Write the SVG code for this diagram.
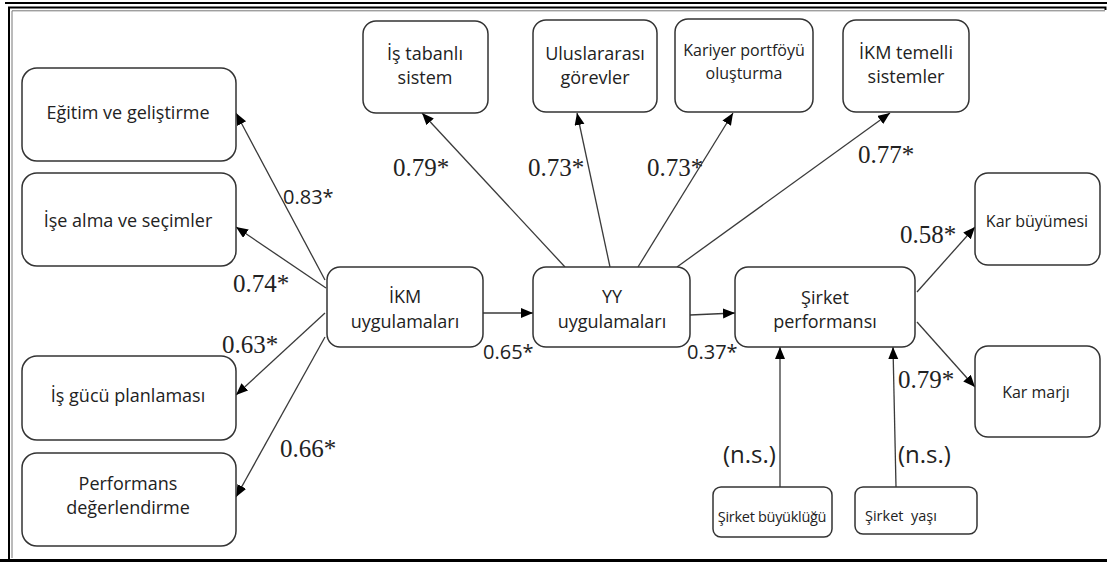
<svg xmlns="http://www.w3.org/2000/svg" width="1107" height="562" viewBox="0 0 1107 562">
<defs>
<marker id="ah" markerUnits="userSpaceOnUse" markerWidth="14" markerHeight="12" refX="12" refY="5" orient="auto">
<path d="M0,0 L12,5 L0,10 z" fill="#000"/>
</marker>
<style>
.box{fill:#fff;stroke:#333;stroke-width:1.5}
.t{font-family:"Open Sans","Liberation Sans",sans-serif;font-size:18px;fill:#222;text-anchor:middle}
.ts{font-family:"Open Sans","Liberation Sans",sans-serif;font-size:16px;fill:#222;text-anchor:middle}
.c{stroke:#3a3a3a;stroke-width:1.3;fill:none;marker-end:url(#ah)}
.ls{font-family:"Open Sans","Liberation Sans",sans-serif;font-size:20px;fill:#222}
.lr{font-family:"Liberation Serif","DejaVu Serif",serif;font-size:25px;fill:#222}
.ns{font-family:"Open Sans","Liberation Sans",sans-serif;font-size:24px;fill:#222}
</style>
</defs>
<rect width="1107" height="562" fill="#fff"/>
<g id="frame" fill="none">
<line x1="5" y1="3" x2="1107" y2="3" stroke="#000" stroke-width="2"/>
<path d="M9,559 V7.5 H1105.5 V10" stroke="#000" stroke-width="2"/>
<path d="M12,558 V10.8 H1105" stroke="#777" stroke-width="1"/>
<line x1="0" y1="560.5" x2="1107" y2="560.5" stroke="#000" stroke-width="3"/>
</g>
<g id="connectors">
<line class="c" x1="325" y1="280" x2="236" y2="113"/>
<line class="c" x1="326" y1="288" x2="236" y2="227"/>
<line class="c" x1="325" y1="313" x2="236" y2="395"/>
<line class="c" x1="325" y1="337" x2="236" y2="497"/>
<line class="c" x1="483" y1="313" x2="533" y2="313"/>
<line class="c" x1="690" y1="315" x2="735" y2="313"/>
<line class="c" x1="565" y1="267" x2="422" y2="113"/>
<line class="c" x1="610" y1="267" x2="577" y2="113"/>
<line class="c" x1="638" y1="267" x2="733" y2="113"/>
<line class="c" x1="677" y1="267" x2="890" y2="113"/>
<line class="c" x1="917" y1="292" x2="975" y2="227"/>
<line class="c" x1="917" y1="322" x2="975" y2="387"/>
<line class="c" x1="780" y1="487" x2="780" y2="347"/>
<line class="c" x1="896" y1="487" x2="893" y2="347"/>
</g>
<g id="labels">
<text class="ls" x="283" y="204">0.83*</text>
<text class="lr" x="233" y="292">0.74*</text>
<text class="lr" x="222" y="353">0.63*</text>
<text class="lr" x="280" y="457">0.66*</text>
<text class="ls" x="483" y="359">0.65*</text>
<text class="ls" x="687" y="359">0.37*</text>
<text class="lr" x="393" y="176">0.79*</text>
<text class="lr" x="528" y="176">0.73*</text>
<text class="lr" x="647" y="176">0.73*</text>
<text class="lr" x="858" y="163">0.77*</text>
<text class="lr" x="900" y="243">0.58*</text>
<text class="lr" x="898" y="388">0.79*</text>
<text class="ns" x="723" y="463">(n.s.)</text>
<text class="ns" x="898" y="463">(n.s.)</text>
</g>
<g id="n-egitim"><rect class="box" x="22" y="68" width="214" height="93" rx="15"/><text class="t" x="128" y="119">Eğitim ve geliştirme</text></g>
<g id="n-ise"><rect class="box" x="22" y="173" width="214" height="93" rx="15"/><text class="t" x="128" y="227">İşe alma ve seçimler</text></g>
<g id="n-isgucu"><rect class="box" x="22" y="356" width="214" height="84" rx="15"/><text class="t" x="128" y="402">İş gücü planlaması</text></g>
<g id="n-perf"><rect class="box" x="22" y="453" width="214" height="93" rx="15"/><text class="t" x="128" y="490">Performans</text><text class="t" x="128" y="514">değerlendirme</text></g>
<g id="n-ikm"><rect class="box" x="327" y="267" width="156" height="80" rx="13"/><text class="t" x="405" y="303">İKM</text><text class="t" x="405" y="328">uygulamaları</text></g>
<g id="n-yy"><rect class="box" x="533" y="267" width="157" height="80" rx="13"/><text class="t" x="612" y="303">YY</text><text class="t" x="612" y="328">uygulamaları</text></g>
<g id="n-sirket"><rect class="box" x="735" y="267" width="180" height="80" rx="13"/><text class="t" x="825" y="304">Şirket</text><text class="t" x="825" y="328">performansı</text></g>
<g id="n-istabanli"><rect class="box" x="363" y="21" width="125" height="92" rx="13"/><text class="t" x="425" y="60">İş tabanlı</text><text class="t" x="425" y="84">sistem</text></g>
<g id="n-ulus"><rect class="box" x="533" y="20" width="124" height="92" rx="13"/><text class="t" x="595" y="60">Uluslararası</text><text class="t" x="595" y="84">görevler</text></g>
<g id="n-kariyer"><rect class="box" x="675" y="19" width="138" height="93" rx="13"/><text class="ts" x="744" y="56">Kariyer portföyü</text><text class="ts" x="744" y="79">oluşturma</text></g>
<g id="n-ikmtem"><rect class="box" x="843" y="20" width="126" height="92" rx="13"/><text class="t" x="906" y="59">İKM temelli</text><text class="t" x="906" y="83">sistemler</text></g>
<g id="n-karb"><rect class="box" x="975" y="173" width="125" height="92" rx="13"/><text class="ts" x="1037" y="227">Kar büyümesi</text></g>
<g id="n-karm"><rect class="box" x="975" y="346" width="125" height="91" rx="13"/><text class="ts" x="1036" y="398">Kar marjı</text></g>
<g id="n-sb"><rect class="box" x="713" y="487" width="119" height="50" rx="8"/><text class="ts" x="772" y="522" style="font-size:14.5px;letter-spacing:-0.3px">Şirket büyüklüğü</text></g>
<g id="n-sy"><rect class="box" x="855" y="487" width="122" height="47" rx="8"/><text class="ts" x="865" y="521" style="text-anchor:start;white-space:pre;font-size:14.5px">Şirket  yaşı</text></g>
</svg>
